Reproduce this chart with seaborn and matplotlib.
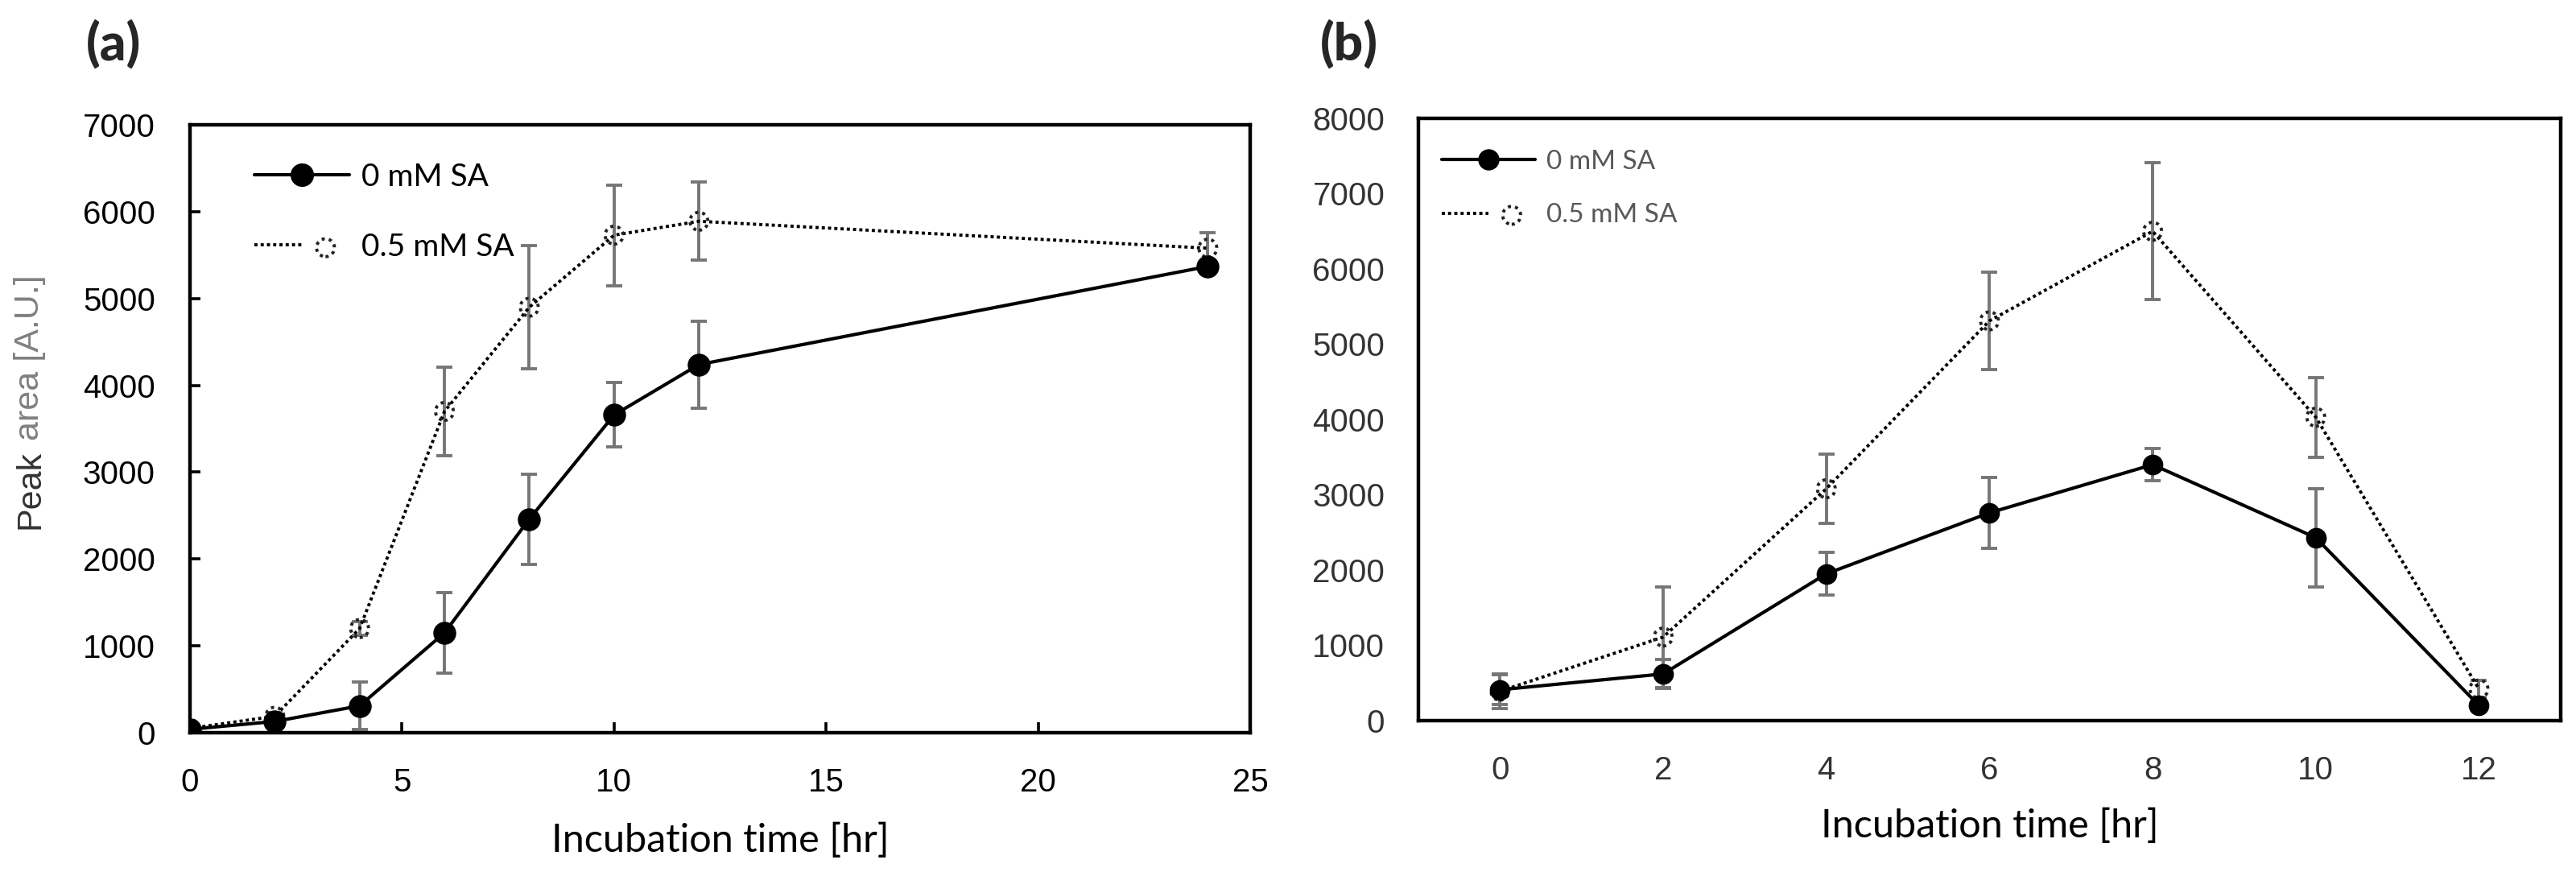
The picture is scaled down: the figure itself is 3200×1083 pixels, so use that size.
import matplotlib
matplotlib.use("Agg")
import matplotlib.pyplot as plt
import seaborn as sns
from matplotlib.lines import Line2D
from matplotlib.legend_handler import HandlerTuple

# ---------------- data ----------------
a_time = [0, 2, 4, 6, 8, 10, 12, 24]
a_sa0 = [40, 130, 310, 1150, 2460, 3660, 4240, 5370]
a_sa0_err = [20, 40, 270, 460, 520, 370, 500, 30]
a_sa05 = [50, 190, 1200, 3700, 4900, 5730, 5890, 5580]
a_sa05_err = [20, 40, 80, 510, 710, 580, 450, 180]

b_time = [0, 2, 4, 6, 8, 10, 12]
b_sa0 = [410, 620, 1950, 2760, 3400, 2430, 200]
b_sa0_err = [200, 190, 280, 470, 210, 650, 40]
b_sa05 = [390, 1110, 3080, 5310, 6500, 4030, 420]
b_sa05_err = [230, 670, 460, 650, 910, 530, 110]

series_labels = ["0 mM SA", "0.5 mM SA"]
x_label = "Incubation time [hr]"
y_label_parts = ["Peak", "area [A.U.]"]
panel_labels = ["(a)", "(b)"]

# ---------------- style ----------------
sns.set_style("white")
plt.rcParams["font.family"] = ["Liberation Sans", "DejaVu Sans"]
LATO = ["Lato", "DejaVu Sans"]
ERR_C = "#767676"
DOT = (0, (1, 1.0))

fig = plt.figure(figsize=(16, 5.415), dpi=200)
axa = fig.add_axes([0.07375, 0.1597, 0.4116, 0.6971])
axb = fig.add_axes([0.5506, 0.1736, 0.4434, 0.6907])


def draw_panel(ax, t, y0, e0, y5, e5, ms0, ms5):
    for y, e in ((y0, e0), (y5, e5)):
        ax.errorbar(t, y, yerr=e, fmt="none", ecolor=ERR_C, elinewidth=1.4,
                    capsize=3.6, capthick=1.4, zorder=2)
    sns.lineplot(x=t, y=y5, ax=ax, color="black", linewidth=1.4,
                 linestyle=DOT, zorder=3)
    sc = ax.scatter(t, y5, s=ms5 ** 2, facecolors="none", edgecolors="#222222",
                    linewidths=1.4, linestyles=(0, (1.0, 1.3)), zorder=3.5)
    sns.lineplot(x=t, y=y0, ax=ax, color="black", linewidth=1.5, marker="o",
                 markersize=ms0, markerfacecolor="black",
                 markeredgecolor="black", zorder=4)
    ax.set_xlabel("")
    ax.set_ylabel("")
    h0 = Line2D([], [], color="black", lw=1.5, marker="o", ms=ms0,
                mfc="black", mec="black")
    h5 = (Line2D([], [], color="black", lw=1.4, linestyle=DOT), sc)
    return [h0, h5]


ha = draw_panel(axa, a_time, a_sa0, a_sa0_err, a_sa05, a_sa05_err, 9.5, 8.0)
hb = draw_panel(axb, b_time, b_sa0, b_sa0_err, b_sa05, b_sa05_err, 8.5, 8.0)

# ---- panel a axes ----
axa.set_xlim(0, 25)
axa.set_ylim(0, 7000)
axa.set_xticks(range(0, 26, 5))
axa.set_yticks(range(0, 7001, 1000))
axa.tick_params(axis="both", direction="in", length=4.7, width=1.3,
                color="black", labelsize=14.5, labelcolor="black",
                bottom=True, left=True, top=False, right=False)
axa.tick_params(axis="x", pad=15.5)
axa.tick_params(axis="y", pad=15.5)

# ---- panel b axes ----
axb.set_xlim(-1, 13)
axb.set_ylim(0, 8000)
axb.set_xticks(b_time)
axb.set_yticks(range(0, 8001, 1000))
axb.tick_params(axis="both", length=0, labelsize=14.5, labelcolor="#333333")
axb.tick_params(axis="x", pad=15.5)
axb.tick_params(axis="y", pad=15)

for ax in (axa, axb):
    ax.grid(False)
    for sp in ax.spines.values():
        sp.set_visible(True)
        sp.set_color("black")
        sp.set_linewidth(1.6)

# ---- legends ----
hm = {tuple: HandlerTuple(ndivide=None, pad=0)}
axa.legend(ha, series_labels, handler_map=hm, loc="upper left",
           bbox_to_anchor=(0.0607, 0.938), borderaxespad=0, borderpad=0,
           frameon=False, handlelength=3.03, handletextpad=0.39,
           labelspacing=1.31, prop={"family": LATO, "size": 14},
           labelcolor="black")
axb.legend(hb, series_labels, handler_map=hm, loc="upper left",
           bbox_to_anchor=(0.0204, 0.948), borderaxespad=0, borderpad=0,
           frameon=False, handlelength=3.48, handletextpad=0.42,
           labelspacing=1.09, prop={"family": LATO, "size": 12},
           labelcolor="#595959")

# ---- x labels ----
for ax, yc in ((axa, -0.196), (axb, -0.194)):
    ax.set_xlabel(x_label, fontsize=17.5, family=LATO, color="black")
    ax.xaxis.set_label_coords(0.5, yc)
    ax.xaxis.label.set_verticalalignment("baseline")

# ---- panel labels ----
for xp, lab in ((0.0334, panel_labels[0]), (0.5125, panel_labels[1])):
    fig.text(xp, 0.9497, lab, fontsize=23, fontweight="black",
             family=LATO, ha="left", va="center")

# ---- two-colour y label ----
YL_SIZE = 15.5
t1 = fig.text(0.0116, 0.3934, y_label_parts[0], rotation=90, ha="center",
              va="bottom", fontsize=YL_SIZE, color="#333333")
fig.canvas.draw()
bb = t1.get_window_extent(fig.canvas.get_renderer())
gap = 0.278 * YL_SIZE * fig.dpi / 72.0
fig.text(0.0116, (bb.y1 + gap) / fig.bbox.height, y_label_parts[1],
         rotation=90, ha="center", va="bottom", fontsize=YL_SIZE,
         color="#808080")

fig.savefig("out.png", dpi=200)
